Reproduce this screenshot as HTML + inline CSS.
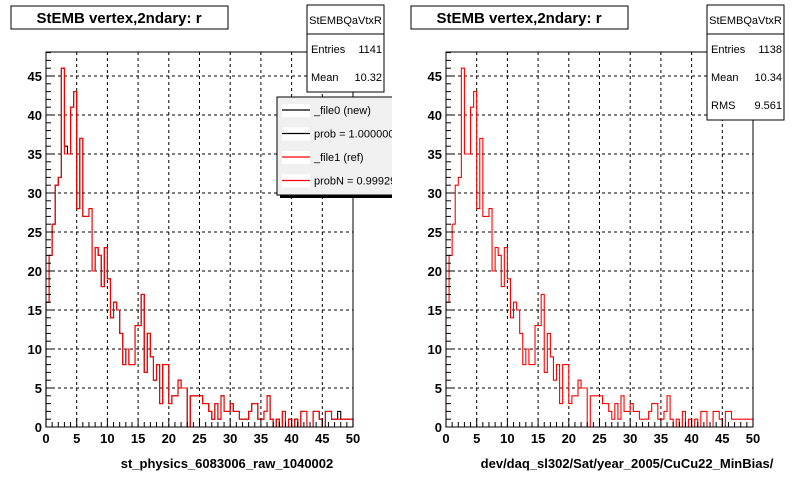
<!DOCTYPE html>
<html><head><meta charset="utf-8"><style>
body{margin:0;background:#fff;}
svg{display:block;font-family:"Liberation Sans",sans-serif;}
</style></head><body>
<svg id="c" width="800" height="480"></svg>
<script>
const binWidth = 0.5;
const refCounts = [16,22,26,31,32,46,35,35,41,43,28,37,27,27,28,20,23,22,18,23,19,14,16,15,12,8,10,8,8,13,13,17,7,12,9,6,8,3,8,8,3,4,4,6,5,5,0,4,4,4,4,3,3,2,1,3,1,4,2,2,3,2,2,1,1,1,2,3,3,1,1,2,4,1,0,1,0,2,0,1,0,1,0,2,2,0,0,2,2,1,0,2,2,1,1,1,1,1,1,1];
const newCounts = [16,22,26,31,32,46,36,35,41,43,28,37,27,27,28,20,23,22,18,23,19,14,16,15,12,8,10,8,8,13,13,17,7,12,9,6,8,3,8,8,3,4,4,6,5,5,0,4,4,4,4,3,3,2,1,3,1,4,2,2,3,2,2,1,1,1,2,3,3,1,1,2,4,1,0,1,0,2,0,1,0,1,0,2,2,0,0,2,2,1,0,2,2,1,1,2,1,1,1,1];
const xTicks = [0,5,10,15,20,25,30,35,40,45,50];
const yTicks = [0,5,10,15,20,25,30,35,40,45];
const NS="http://www.w3.org/2000/svg";
const svg=document.getElementById('c');
function mk(tag,attrs,parent){const e=document.createElementNS(NS,tag);for(const k in attrs)e.setAttribute(k,attrs[k]);(parent||svg).appendChild(e);return e;}
function panel(ox, xlabel, stats, showNew){
  const g=mk('g',{transform:`translate(${ox},0)`});
  
  
  const L=46,R=353,T=52,B=427;
  const X=v=>L+v*(R-L)/50, Y=v=>B-v*7.8;
  const tb=mk('rect',{x:11,y:6,width:217,height:23,fill:'#fff',stroke:'#000'},g);
  
  const tt=mk('text',{x:119,y:23,'text-anchor':'middle','font-size':'15','font-weight':'bold'},g);tt.textContent='StEMB  vertex,2ndary: r';
  
  for(const v of xTicks){if(v===0||v===50)continue;const l=mk('line',{x1:X(v),x2:X(v),y1:T,y2:B,stroke:'#000','stroke-dasharray':'3,3'},g);}
  for(const v of yTicks){if(v===0)continue;const l=mk('line',{x1:L,x2:R,y1:Y(v),y2:Y(v),stroke:'#000','stroke-dasharray':'3,3'},g);}
  function hist(counts,color,name){
    let d=`M${X(0)},${B}`;
    counts.forEach((c,i)=>{d+=` L${X(i*binWidth)},${Y(c)} L${X((i+1)*binWidth)},${Y(c)}`;});
    d+=` L${X(counts.length*binWidth)},${B}`;
    const p=mk('path',{d:d,fill:'none',stroke:color,'stroke-width':1.1},g);
    
  }
  if(showNew) hist(newCounts,'#000','hist-new');
  hist(refCounts,'#f00','hist-ref');
  const fr=mk('rect',{x:L,y:T,width:R-L,height:B-T,fill:'none',stroke:'#000'},g);
  
  for(let v=0;v<=50;v++){const len=(v%5===0)?9:5;mk('line',{x1:X(v),x2:X(v),y1:B,y2:B-len,stroke:'#000'},g);}
  for(const v of xTicks){const t=mk('text',{x:X(v),y:443,'text-anchor':'middle','font-size':'13','font-weight':'bold'},g);t.textContent=v;}
  for(let v=0;v<=48;v++){const len=(v%5===0)?9:5;mk('line',{x1:L,x2:L+len,y1:Y(v),y2:Y(v),stroke:'#000'},g);}
  for(const v of yTicks){const t=mk('text',{x:42,y:Y(v)+5,'text-anchor':'end','font-size':'13','font-weight':'bold'},g);t.textContent=v;}
  const xl=mk('text',{x:227,y:468,'text-anchor':'middle','font-size':'13','font-weight':'bold'},g);xl.textContent=xlabel;
  
  const sh=stats.length*28+31;
  const sb=mk('rect',{x:307,y:5,width:77,height:sh,fill:'#fff',stroke:'#000'},g);
  
  mk('line',{x1:307,x2:384,y1:34,y2:34,stroke:'#000'},g);
  const sn=mk('text',{x:345.5,y:24,'text-anchor':'middle','font-size':'11'},g);sn.textContent='StEMBQaVtxR';
  stats.forEach((s,i)=>{const a=mk('text',{x:311,y:53+i*28,'font-size':'11'},g);a.textContent=s[0];const b=mk('text',{x:382,y:53+i*28,'text-anchor':'end','font-size':'11'},g);b.textContent=s[1];});
  return g;
}
panel(0,'st_physics_6083006_raw_1040002',[['Entries','1141'],['Mean','10.32']],true);
panel(400,'dev/daq_sl302/Sat/year_2005/CuCu22_MinBias/',[['Entries','1138'],['Mean','10.34'],['RMS','9.561']],false);
const lg=mk('g',{});

mk('rect',{x:280,y:100,width:120,height:98,fill:'#000'},lg);
mk('rect',{x:277,y:97,width:120,height:98,fill:'#f0f0f0',stroke:'#000'},lg);
const items=[['_file0 (new)','#000'],['prob = 1.000000','#000'],['_file1 (ref)','#f00'],['probN = 0.99929','#f00']];
items.forEach((it,i)=>{const y=110+i*23.5;mk('rect',{x:282,y:y-6,width:28,height:13,fill:'#fff'},lg);const l=mk('line',{x1:282,x2:310,y1:y,y2:y,stroke:it[1],'stroke-width':1.2},lg);const t=mk('text',{x:314,y:y+4,'font-size':'11'},lg);t.textContent=it[0];});
mk('rect',{x:392,y:90,width:8,height:115,fill:'#fff'},lg);
</script>
</body></html>
